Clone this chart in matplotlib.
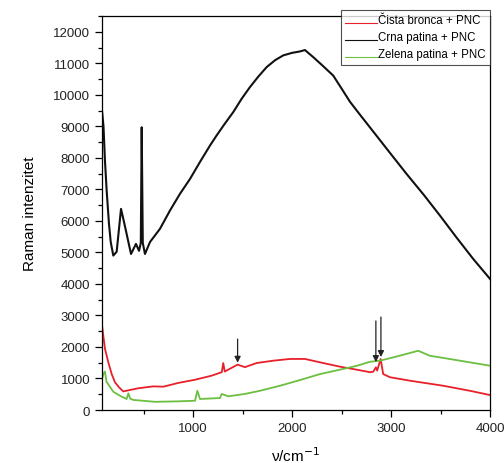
import numpy as np
import matplotlib
matplotlib.use('Agg')
import matplotlib.pyplot as plt
from matplotlib.ticker import MultipleLocator
from matplotlib.legend_handler import HandlerLine2D

plt.rcParams['font.family'] = ['Liberation Sans', 'DejaVu Sans']

# Čista bronca + PNC (red)
red_x = [80, 93, 110, 144, 178, 211, 252, 295, 447, 598, 700, 851, 1020, 1188, 1290,
         1305, 1320, 1450, 1524, 1642, 1810, 1979, 2130, 2315, 2484, 2652, 2787, 2820,
         2847, 2860, 2895, 2921, 2989, 3191, 3527, 3797, 4000]
red_y = [2700, 2360, 1940, 1510, 1140, 880, 720, 590, 690, 750, 740, 860, 960, 1090,
         1200, 1490, 1220, 1440, 1360, 1490, 1565, 1620, 1620, 1490, 1375, 1280, 1200,
         1215, 1355, 1250, 1620, 1140, 1040, 930, 770, 610, 475]

# Crna patina + PNC (black)
black_x = [80, 95, 110, 127, 150, 168, 194, 228, 272, 302, 373, 423, 454, 472, 481,
           492, 514, 565, 666, 767, 868, 969, 1070, 1171, 1238, 1320, 1406, 1490, 1575,
           1660, 1744, 1830, 1911, 2000, 2080, 2130, 2214, 2300, 2416, 2500, 2585,
           2686, 2820, 3000, 3157, 3330, 3494, 3660, 3830, 4000]
black_y = [9500, 9000, 7900, 6960, 5920, 5330, 4900, 5020, 6380, 5970, 4950, 5270,
           5050, 5300, 8970, 5300, 4950, 5330, 5750, 6330, 6860, 7330, 7870, 8390,
           8710, 9080, 9450, 9870, 10245, 10580, 10880, 11100, 11250, 11330, 11375,
           11420, 11195, 10950, 10610, 10200, 9780, 9370, 8835, 8115, 7490, 6830,
           6170, 5480, 4795, 4160]

# Zelena patina + PNC (green)
green_x = [80, 95, 110, 125, 141, 194, 262, 329, 346, 365, 396, 615, 851, 1020, 1043,
           1070, 1272, 1289, 1356, 1524, 1676, 1878, 2080, 2282, 2484, 2652, 2787,
           2888, 3022, 3157, 3274, 3393, 3494, 3696, 4000]
green_y = [985, 1150, 1220, 900, 825, 580, 450, 350, 530, 360, 320, 260, 275, 295, 610,
           350, 380, 510, 435, 510, 610, 770, 950, 1140, 1280, 1400, 1530,
           1565, 1670, 1780, 1880, 1720, 1670, 1565, 1405]

labels = ['Čista bronca + PNC', 'Crna patina + PNC', 'Zelena patina + PNC']

# arrows marking bands: x position, tail y, head y
arrow_x = [1450, 2847, 2898]
arrow_top = [2250, 2825, 2950]
arrow_tip = [1500, 1520, 1680]


class UnderlineHandler(HandlerLine2D):
    # legend line drawn at the text baseline, like an underline
    def create_artists(self, legend, orig_handle, xdescent, ydescent,
                       width, height, fontsize, trans):
        artists = super().create_artists(legend, orig_handle, xdescent, ydescent,
                                         width, height, fontsize, trans)
        for a in artists:
            a.set_ydata(np.asarray(a.get_ydata()) - height * 0.45)
        return artists


fig = plt.figure(figsize=(5.04, 4.64), dpi=100)
ax = fig.add_axes([0.2024, 0.1142, 0.7698, 0.8492])

l1, = ax.plot(red_x, red_y, color='#e8202a', lw=1.3, label=labels[0])
l2, = ax.plot(black_x, black_y, color='#111111', lw=1.5, label=labels[1])
l3, = ax.plot(green_x, green_y, color='#6cbf3f', lw=1.3, label=labels[2])

for x, t, h in zip(arrow_x, arrow_top, arrow_tip):
    ax.annotate('', xy=(x, h), xytext=(x, t),
                arrowprops=dict(arrowstyle='-|>', color='#222222', lw=0.9,
                                mutation_scale=9, shrinkA=0, shrinkB=0))

ax.set_xlim(80, 4000)
ax.set_ylim(0, 12500)
ax.xaxis.set_major_locator(MultipleLocator(1000))
ax.xaxis.set_minor_locator(MultipleLocator(500))
ax.yaxis.set_major_locator(MultipleLocator(1000))
ax.yaxis.set_minor_locator(MultipleLocator(500))
ax.tick_params(which='major', direction='out', length=5, width=0.9,
               labelsize=9.5, labelcolor='#222222')
ax.tick_params(which='minor', direction='out', length=3, width=0.9)
for s in ax.spines.values():
    s.set_linewidth(0.9)

ax.set_xlabel('ν/cm$^{-1}$', fontsize=11, labelpad=8)
ax.set_ylabel('Raman intenzitet', fontsize=11, labelpad=12)

hm = {h: UnderlineHandler() for h in (l1, l2, l3)}
leg = ax.legend(loc='upper right', bbox_to_anchor=(1.0, 1.015), borderaxespad=0,
                fontsize=8.3, frameon=True, fancybox=False, handlelength=2.8,
                handletextpad=0.1, labelspacing=0.45, borderpad=0.35,
                handler_map=hm)
leg.get_frame().set_edgecolor('#222222')
leg.get_frame().set_linewidth(0.8)
for line in leg.get_lines():
    line.set_linewidth(0.8)

plt.savefig('out.png', dpi=100)
